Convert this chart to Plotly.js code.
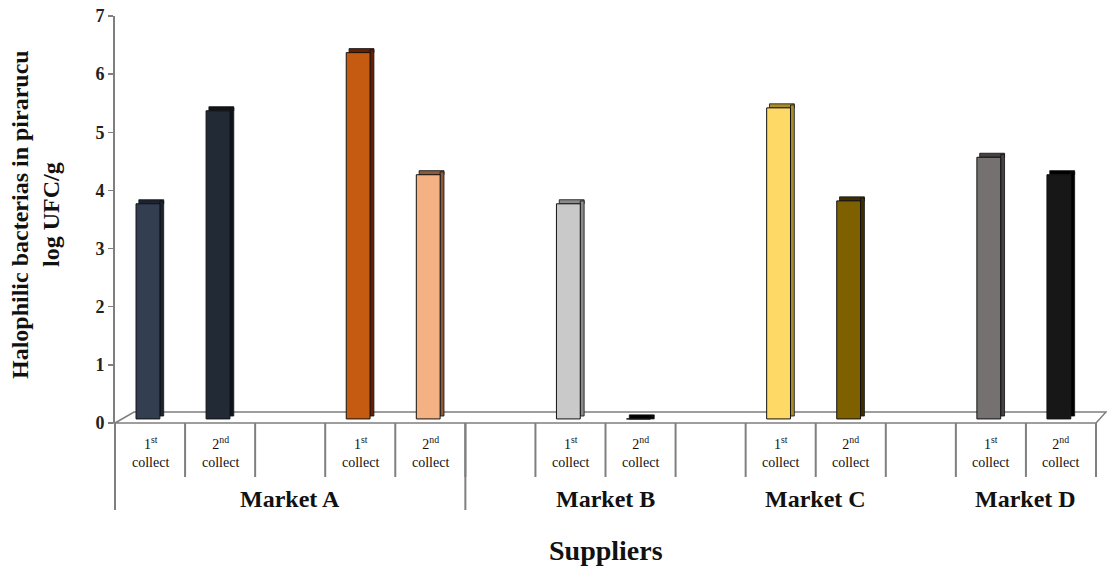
<!DOCTYPE html>
<html>
<head>
<meta charset="utf-8">
<script src="https://cdn.plot.ly/plotly-3.0.1.min.js"></script>
<style>
  html, body { margin: 0; padding: 0; background: #ffffff; }
  #chart { width: 1107px; height: 569px; }
</style>
</head>
<body>
<div id="chart"></div>
<script>
// ---------------- DATA ----------------
const markets  = ["Market A", "Market A", "Market A", "Market A", "Market B", "Market B", "Market C", "Market C", "Market D", "Market D"];
const collects = ["1st", "2nd", "1st", "2nd", "1st", "2nd", "1st", "2nd", "1st", "2nd"];
const values   = [3.7, 5.3, 6.3, 4.2, 3.7, 0, 5.35, 3.75, 4.5, 4.2];
const yTicks   = [0, 1, 2, 3, 4, 5, 6, 7];

const yTitle = "Halophilic bacterias in pirarucu<br>log UFC/g";
const xTitle = "Suppliers";

// ---------------- LAYOUT / STYLE ----------------
const slotCount = 14;                       // number of category slots along the axis
const slotPos   = [1, 2, 4, 5, 7, 8, 10, 11, 13, 14];   // slot of each bar
const longDividerAfter = ["Market A"];

const frontColors = ["#333f50", "#222a35", "#c55a11", "#f4b183", "#c9c9c9", "#111111", "#ffd966", "#7f6000", "#767171", "#181717"];
const sideColors  = ["#1b2330", "#10151c", "#6a1e00", "#8f5a38", "#8a8a8a", "#000000", "#a88d2c", "#3f2f00", "#464242", "#000000"];

const depth = 0.07;       // 3-D depth offset (axis units)
const serif = "Liberation Serif, Times New Roman, serif";

const W = 1107, H = 569;
const mL = 115, mR = 11, mT = 16, mB = 146;
const plotH = H - mT - mB;
const py = p => ((H - mB) - p) / plotH;   // pixel row -> paper y
const px = p => (p - mL) / (W - mL - mR); // pixel col -> paper x

// ---------------- TRACES ----------------
const topTrace = {
  type: "bar", x: slotPos, y: values.map(() => depth), base: values.map(v => v + depth),
  width: 0.355, offset: -0.16,
  marker: { color: sideColors, line: { color: "#111", width: 0.8 } },
  hoverinfo: "skip", showlegend: false
};
const sideTrace = {
  type: "bar", x: slotPos, y: values, base: depth + 0.05,
  width: 0.055, offset: 0.14,
  marker: { color: sideColors, line: { color: "#111", width: 0.8 } },
  hoverinfo: "skip", showlegend: false
};
const frontTrace = {
  type: "bar", x: slotPos, y: values, base: depth,
  width: 0.34, offset: -0.2,
  marker: { color: frontColors, line: { color: "#111", width: 1 } },
  hoverinfo: "skip", showlegend: false
};

// ---------------- SHAPES ----------------
const grey = "#7f7f7f";
const shapes = [];
// floor
shapes.push({
  type: "path", xref: "paper", yref: "paper", layer: "below",
  path: `M 0 0 L ${px(134)} ${py(412)} L ${px(1106)} ${py(412)} L 1 0 Z`,
  fillcolor: "#ffffff", line: { color: grey, width: 1.5 }
});
// y axis extension below the floor
shapes.push({ type: "line", xref: "paper", yref: "paper", x0: 0, x1: 0, y0: py(510), y1: 0, line: { color: grey, width: 2 } });
// short dividers between slots
for (let b = 1; b <= slotCount; b++) {
  shapes.push({ type: "line", xref: "paper", yref: "paper", x0: b / slotCount, x1: b / slotCount, y0: py(477), y1: 0, line: { color: grey, width: 2 } });
}
// long dividers after given markets
longDividerAfter.forEach(m => {
  const last = Math.max(...slotPos.filter((s, i) => markets[i] === m));
  const xb = last / slotCount;
  shapes.push({ type: "line", xref: "paper", yref: "paper", x0: xb, x1: xb, y0: py(510), y1: 0, line: { color: grey, width: 2 } });
});

// ---------------- ANNOTATIONS ----------------
const annotations = [];
collects.forEach((c, i) => {
  const num = c.slice(0, 1), suf = c.slice(1);
  annotations.push({
    x: slotPos[i], xref: "x", y: py(452), yref: "paper",
    text: `${num}<sup>${suf}</sup><br>collect`, showarrow: false,
    xanchor: "center", yanchor: "middle",
    font: { family: serif, size: 14, color: "#111" }
  });
});
[...new Set(markets)].forEach(m => {
  const pos = slotPos.filter((s, i) => markets[i] === m);
  const cx = pos.reduce((a, b) => a + b, 0) / pos.length;
  annotations.push({
    x: cx, xref: "x", y: py(499), yref: "paper",
    text: `<b>${m}</b>`, showarrow: false, xanchor: "center", yanchor: "middle",
    font: { family: serif, size: 24, color: "#111" }
  });
});
annotations.push({
  x: 0.5, xref: "paper", y: py(550), yref: "paper",
  text: `<b>${xTitle}</b>`, showarrow: false, xanchor: "center", yanchor: "middle",
  font: { family: serif, size: 28, color: "#111" }
});
annotations.push({
  x: px(35), xref: "paper", y: py(215), yref: "paper",
  text: `<b>${yTitle}</b>`, showarrow: false, textangle: -90,
  xanchor: "center", yanchor: "middle",
  font: { family: serif, size: 24, color: "#111" }
});

const layout = {
  width: W, height: H,
  margin: { l: mL, r: mR, t: mT, b: mB, pad: 0 },
  paper_bgcolor: "#ffffff", plot_bgcolor: "rgba(0,0,0,0)",
  barmode: "overlay", showlegend: false,
  xaxis: { range: [0.5, slotCount + 0.5], visible: false, fixedrange: true },
  yaxis: {
    range: [0, 7], tickmode: "array", tickvals: yTicks, ticktext: yTicks.map(t => `<b>${t}</b>`),
    showgrid: false, zeroline: false,
    showline: true, linecolor: grey, linewidth: 2,
    ticks: "outside", ticklen: 5, tickcolor: grey, tickwidth: 1.5,
    tickfont: { family: serif, size: 18, color: "#222" },
    fixedrange: true
  },
  shapes: shapes,
  annotations: annotations
};

Plotly.newPlot("chart", [topTrace, sideTrace, frontTrace], layout, { staticPlot: true, displayModeBar: false });
</script>
</body>
</html>
